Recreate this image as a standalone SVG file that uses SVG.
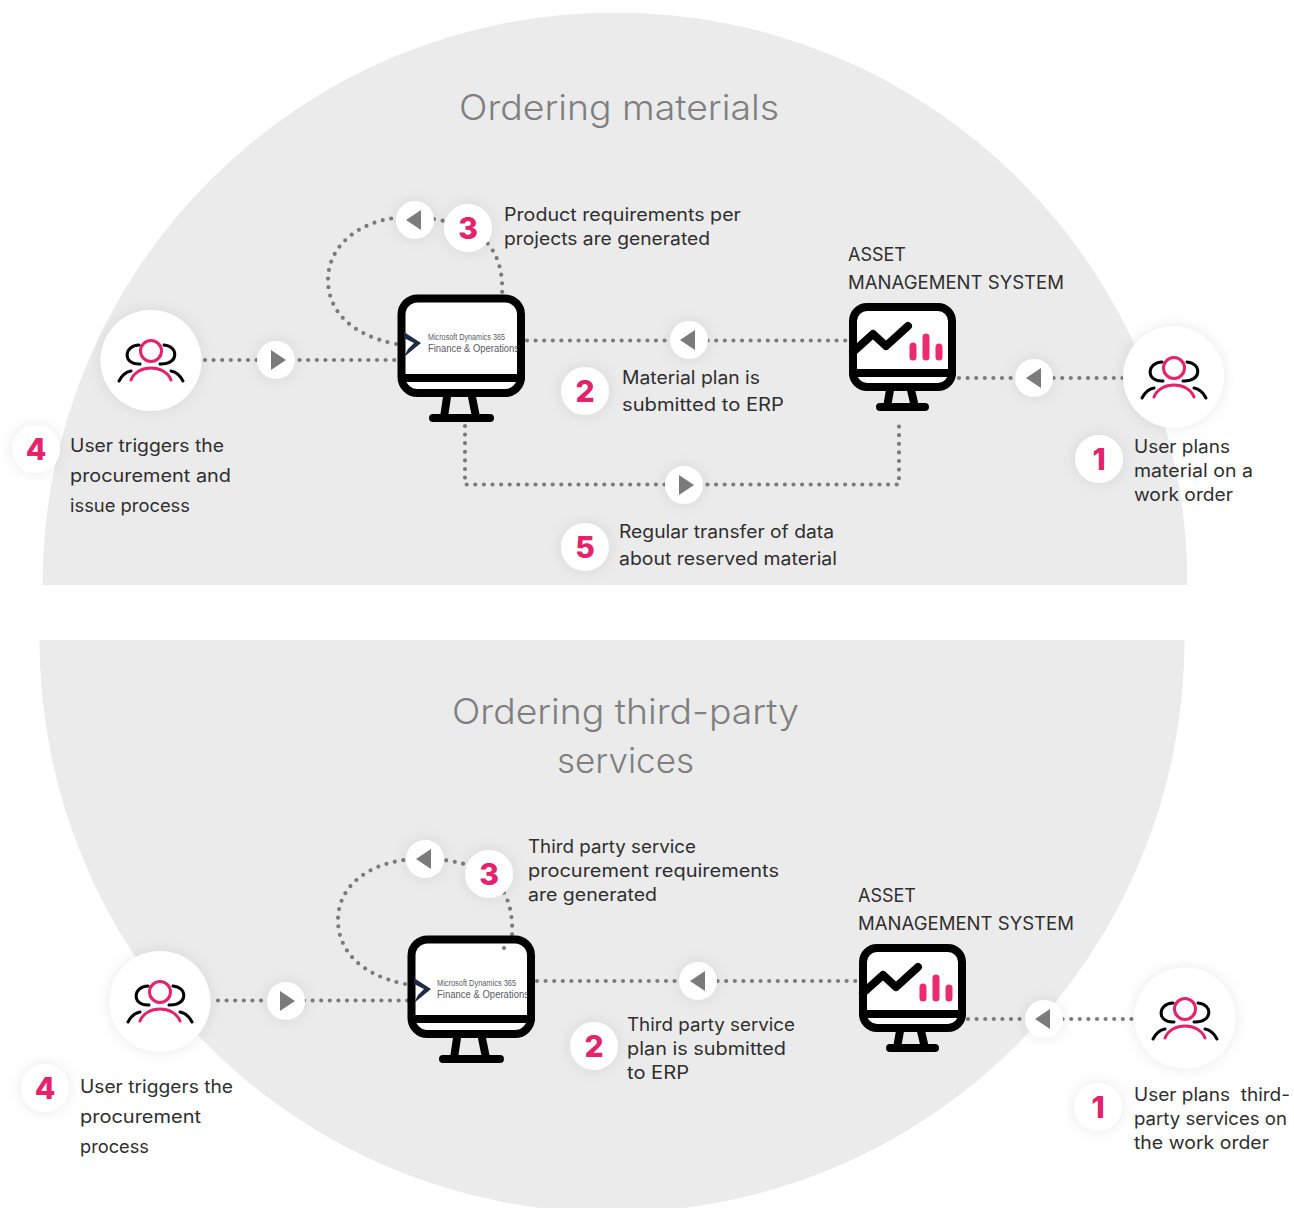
<svg xmlns="http://www.w3.org/2000/svg" xmlns:xlink="http://www.w3.org/1999/xlink" width="1294" height="1208" viewBox="0 0 1294 1208">
<style>
.t{font-family:"Inter","Open Sans","Liberation Sans",sans-serif;font-size:18px;fill:#2f2f2f}
.h{font-family:"Inter","Open Sans","Liberation Sans",sans-serif;font-size:35px;font-weight:300;fill:#7f7f7f}
.n{font-family:"Inter","Open Sans","Liberation Sans",sans-serif;font-size:30px;font-weight:800;fill:#e5226b;text-anchor:middle}
.c{fill:none;stroke:#7b7b7b;stroke-width:4.2;stroke-linecap:round;stroke-dasharray:0 8.6}
.w{fill:#fff;filter:url(#s)}
.a{fill:#7b7b7b}
.k{fill:none;stroke:#000;stroke-width:8;stroke-linecap:round;stroke-linejoin:round}
.p{fill:none;stroke:#000;stroke-width:3;stroke-linecap:round}
.r{fill:none;stroke:#e5226b;stroke-width:3;stroke-linecap:round}
.b{fill:none;stroke:#ec2a6e;stroke-width:7;stroke-linecap:round}
.l{font-family:"Liberation Sans",sans-serif;fill:#5a5a66}
</style>
<defs>
<filter id="s" x="-50%" y="-50%" width="200%" height="200%"><feDropShadow dx="0" dy="0" stdDeviation="7" flood-color="#000" flood-opacity="0.09"/></filter>
<clipPath id="top"><rect x="0" y="0" width="1294" height="585"/></clipPath>
<clipPath id="bot"><rect x="0" y="640" width="1294" height="568"/></clipPath>
<clipPath id="scr"><rect x="402" y="299" width="115.500" height="77"/></clipPath>
<clipPath id="scr2"><rect x="412" y="940" width="115.500" height="77"/></clipPath>
<g id="people">
<circle cx="0" cy="-9" r="10.500" class="r"/>
<path d="M-20 20C-14 4 14 4 20 20" class="r"/>
<path d="M-12 -15C-27 -15 -29 5 -11 4" class="p"/>
<path d="M13 -15C28 -14 28 5 9 4" class="p"/>
<path d="M-32 21C-29 15 -25 12 -20 11" class="p"/>
<path d="M32 21C29 15 25 12 20 11" class="p"/>
</g>
<g id="big">
<rect x="401.500" y="298.500" width="119.500" height="94.500" rx="16" class="k" style="fill:#fff"/>
<path d="M402 378H521" class="k" stroke-linecap="butt"/>
<path d="M447 397L444 417M472 397L476 417M433 418H490" class="k"/>
</g>
<path id="chev" d="M404 332L421 343L404 357L408 349L414 343L404 338Z" fill="#1f2a44"/>
<g id="small">
<rect x="853" y="307" width="99" height="80" rx="14" class="k" style="fill:#fff"/>
<path d="M853 373H952" class="k" stroke-linecap="butt"/>
<path d="M890 390L887 407M911 390L915 407M880 407H925" class="k"/>
<path d="M853 352L873 334L886 346L908 326" class="k" stroke-width="7"/>
<path d="M913 346V357M926 337V357M939 347V357" class="b"/>
</g>
<path id="al" d="M-8 0L7 -10V10Z" class="a"/>
<path id="ar" d="M8 0L-7 -10V10Z" class="a"/>
</defs>
<rect width="1294" height="1208" fill="#fff"/>
<circle cx="615" cy="585" r="572.500" fill="#ebebeb" clip-path="url(#top)"/>
<circle cx="612" cy="640" r="572.500" fill="#ebebeb" clip-path="url(#bot)"/>
<text class="h" x="459" y="120" textLength="320" lengthAdjust="spacingAndGlyphs">Ordering materials</text>
<text class="h" x="452" y="724" textLength="347" lengthAdjust="spacingAndGlyphs">Ordering third-party</text>
<text class="h" x="557" y="773" textLength="137" lengthAdjust="spacingAndGlyphs">services</text>

<g id="connectors">
<path class="c" d="M205 360H398"/>
<path class="c" d="M527 340.500H850"/>
<path class="c" d="M959 378H1125"/>
<path class="c" d="M396 344C350 335 328 310 328 280C328 245 360 222 395 218C420 215 450 220 470 230C490 240 504 260 502 295"/>
<path class="c" d="M465 426V484.500H899V420"/>
<path class="c" d="M218 1000.500H408"/>
<path class="c" d="M537 981H860"/>
<path class="c" d="M968 1019H1135"/>
<path class="c" d="M405 984C360 975 338 950 338 920C338 885 370 864 405 860C430 857 460 860 480 870C500 880 514 900 512 936"/>
<circle class="w" cx="276" cy="360" r="19"/><use href="#ar" x="278" y="360"/>
<circle class="w" cx="689" cy="340" r="19"/><use href="#al" x="688" y="340"/>
<circle class="w" cx="1034" cy="378" r="19"/><use href="#al" x="1034" y="378"/>
<circle class="w" cx="415" cy="220" r="19"/><use href="#al" x="414" y="220"/>
<circle class="w" cx="684" cy="485" r="19"/><use href="#ar" x="686" y="485"/>
<circle class="w" cx="286" cy="1001" r="19"/><use href="#ar" x="287" y="1001"/>
<circle class="w" cx="698" cy="981" r="19"/><use href="#al" x="698" y="981"/>
<circle class="w" cx="1044" cy="1019" r="19"/><use href="#al" x="1043" y="1019"/>
<circle class="w" cx="425" cy="859" r="19"/><use href="#al" x="424" y="859"/>
</g>

<g id="users-4-top"><circle class="w" cx="151" cy="360.500" r="50.500"/><use href="#people" x="151" y="360"/></g>
<g id="users-1-top"><circle class="w" cx="1173.500" cy="377" r="50.500"/><use href="#people" x="1174" y="377"/></g>
<g id="users-4-bot"><circle class="w" cx="160" cy="1001.500" r="50.500"/><use href="#people" x="160" y="1001"/></g>
<g id="users-1-bot"><circle class="w" cx="1185" cy="1018" r="50.500"/><use href="#people" x="1185" y="1018"/></g>

<g id="erp-top"><use href="#big"/>
<g clip-path="url(#scr)"><use href="#chev"/>
<text class="l" x="428" y="340" font-size="8.500" textLength="77" lengthAdjust="spacingAndGlyphs">Microsoft Dynamics 365</text>
<text class="l" x="428" y="352" font-size="10" textLength="91" lengthAdjust="spacingAndGlyphs">Finance &amp; Operations</text></g></g>
<g id="ams-top"><use href="#small"/>
<text class="t" x="848" y="261" textLength="58" lengthAdjust="spacingAndGlyphs">ASSET</text>
<text class="t" x="848" y="289" textLength="216" lengthAdjust="spacingAndGlyphs">MANAGEMENT SYSTEM</text></g>
<g id="erp-bot"><use href="#big" x="10" y="641"/>
<g clip-path="url(#scr2)"><use href="#chev" x="10" y="646"/>
<text class="l" x="437" y="986" font-size="8.500" textLength="79" lengthAdjust="spacingAndGlyphs">Microsoft Dynamics 365</text>
<text class="l" x="437" y="998" font-size="10" textLength="92" lengthAdjust="spacingAndGlyphs">Finance &amp; Operations</text></g>
<path class="c" d="M504 948L498 954" stroke-dasharray="0 7"/></g>
<g id="ams-bot"><use href="#small" x="10" y="641"/>
<text class="t" x="858" y="902" textLength="58" lengthAdjust="spacingAndGlyphs">ASSET</text>
<text class="t" x="858" y="930" textLength="216" lengthAdjust="spacingAndGlyphs">MANAGEMENT SYSTEM</text></g>

<g id="step-3-top"><circle class="w" cx="468" cy="228" r="24"/><text class="n" x="468" y="239">3</text>
<text class="t" x="504" y="221" textLength="237" lengthAdjust="spacingAndGlyphs">Product requirements per</text>
<text class="t" x="504" y="245" textLength="206" lengthAdjust="spacingAndGlyphs">projects are generated</text></g>
<g id="step-2-top"><circle class="w" cx="585" cy="391" r="24"/><text class="n" x="585" y="402">2</text>
<text class="t" x="622" y="384" textLength="138" lengthAdjust="spacingAndGlyphs">Material plan is</text>
<text class="t" x="622" y="411" textLength="162" lengthAdjust="spacingAndGlyphs">submitted to ERP</text></g>
<g id="step-5-top"><circle class="w" cx="585" cy="547" r="24"/><text class="n" x="585" y="558">5</text>
<text class="t" x="619" y="538" textLength="215" lengthAdjust="spacingAndGlyphs">Regular transfer of data</text>
<text class="t" x="619" y="565" textLength="218" lengthAdjust="spacingAndGlyphs">about reserved material</text></g>
<g id="step-4-top"><circle class="w" cx="36" cy="449" r="24"/><text class="n" x="36" y="460">4</text>
<text class="t" x="70" y="452" textLength="154" lengthAdjust="spacingAndGlyphs">User triggers the</text>
<text class="t" x="70" y="482" textLength="161" lengthAdjust="spacingAndGlyphs">procurement and</text>
<text class="t" x="70" y="512" textLength="120" lengthAdjust="spacingAndGlyphs">issue process</text></g>
<g id="step-1-top"><circle class="w" cx="1099" cy="459" r="24"/><text class="n" x="1099" y="470">1</text>
<text class="t" x="1134" y="453" textLength="96" lengthAdjust="spacingAndGlyphs">User plans</text>
<text class="t" x="1134" y="477" textLength="119" lengthAdjust="spacingAndGlyphs">material on a</text>
<text class="t" x="1134" y="501" textLength="99" lengthAdjust="spacingAndGlyphs">work order</text></g>

<g id="step-3-bot"><circle class="w" cx="489" cy="874" r="24"/><text class="n" x="489" y="885">3</text>
<text class="t" x="528" y="853" textLength="168" lengthAdjust="spacingAndGlyphs">Third party service</text>
<text class="t" x="528" y="877" textLength="251" lengthAdjust="spacingAndGlyphs">procurement requirements</text>
<text class="t" x="528" y="901" textLength="129" lengthAdjust="spacingAndGlyphs">are generated</text></g>
<g id="step-2-bot"><circle class="w" cx="594" cy="1046" r="24"/><text class="n" x="594" y="1057">2</text>
<text class="t" x="627" y="1031" textLength="168" lengthAdjust="spacingAndGlyphs">Third party service</text>
<text class="t" x="627" y="1055" textLength="159" lengthAdjust="spacingAndGlyphs">plan is submitted</text>
<text class="t" x="627" y="1079" textLength="62" lengthAdjust="spacingAndGlyphs">to ERP</text></g>
<g id="step-4-bot"><circle class="w" cx="45" cy="1088" r="24"/><text class="n" x="45" y="1099">4</text>
<text class="t" x="80" y="1093" textLength="153" lengthAdjust="spacingAndGlyphs">User triggers the</text>
<text class="t" x="80" y="1123" textLength="121" lengthAdjust="spacingAndGlyphs">procurement</text>
<text class="t" x="80" y="1153" textLength="69" lengthAdjust="spacingAndGlyphs">process</text></g>
<g id="step-1-bot"><circle class="w" cx="1098" cy="1107" r="24"/><text class="n" x="1098" y="1118">1</text>
<text class="t" x="1134" y="1101" textLength="156" lengthAdjust="spacingAndGlyphs" xml:space="preserve">User plans  third-</text>
<text class="t" x="1134" y="1125" textLength="153" lengthAdjust="spacingAndGlyphs">party services on</text>
<text class="t" x="1134" y="1149" textLength="135" lengthAdjust="spacingAndGlyphs">the work order</text></g>
</svg>
